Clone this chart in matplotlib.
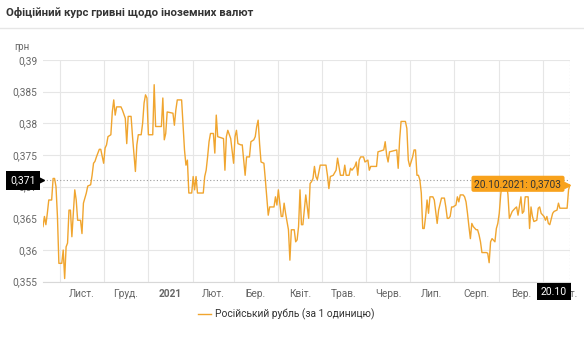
import datetime as dt

import matplotlib
matplotlib.use("Agg")
import matplotlib.pyplot as plt
from matplotlib.lines import Line2D
from matplotlib.transforms import blended_transform_factory, offset_copy

plt.rcParams["font.family"] = ["Roboto", "DejaVu Sans"]

START = dt.date(2020, 10, 20)

# days since 20.10.2020 and the official rate for each of them
DAYS = [
    0, 1, 2, 3, 4, 6, 7, 8, 9, 10, 11, 13, 14, 15, 16, 17, 18, 19, 20, 22,
    23, 24, 26, 27, 28, 30, 31, 33, 34, 35, 36, 37, 39, 40, 42, 43, 44, 45, 47, 48,
    49, 50, 51, 54, 55, 57, 58, 59, 61, 62, 64, 65, 66, 68, 69, 70, 71, 72, 73, 76,
    77, 78, 82, 83, 84, 85, 86, 90, 91, 92, 93, 96, 98, 99, 100, 101, 103, 104, 105, 106,
    107, 111, 112, 113, 114, 115, 116, 118, 119, 120, 121, 125, 126, 127, 128, 130, 132, 133, 134, 135,
    137, 138, 140, 141, 143, 144, 146, 147, 148, 149, 150, 151, 153, 154, 156, 157, 160, 161, 162, 163,
    165, 166, 167, 168, 170, 171, 172, 174, 175, 176, 177, 178, 179, 180, 182, 183, 184, 185, 186, 187,
    188, 189, 190, 192, 196, 197, 198, 199, 201, 203, 204, 205, 206, 208, 209, 210, 212, 213, 214, 216,
    217, 218, 219, 220, 222, 223, 225, 226, 227, 231, 232, 236, 237, 238, 239, 240, 245, 246, 247, 248,
    251, 252, 253, 254, 256, 257, 258, 259, 260, 261, 262, 263, 264, 265, 266, 267, 268, 269, 270, 271,
    272, 273, 274, 276, 278, 279, 280, 281, 282, 283, 284, 286, 287, 288, 289, 291, 292, 293, 294, 295,
    296, 297, 298, 300, 301, 302, 303, 304, 307, 308, 309, 310, 311, 313, 314, 315, 316, 317, 318, 320,
    321, 322, 323, 325, 327, 328, 329, 331, 332, 333, 334, 336, 337, 338, 339, 340, 342, 343, 344, 345,
    347, 348, 349, 350, 351, 353, 354, 356, 357, 358, 363, 364, 365,
]
RATES = [
    0.3637, 0.3653, 0.3640, 0.3658, 0.3679, 0.3679, 0.3713, 0.3713, 0.3700, 0.3653,
    0.3579, 0.3579, 0.3600, 0.3555, 0.3605, 0.3611, 0.3663, 0.3663, 0.3621, 0.3695,
    0.3679, 0.3647, 0.3647, 0.3626, 0.3674, 0.3690, 0.3701, 0.3703, 0.3718, 0.3737,
    0.3740, 0.3747, 0.3759, 0.3759, 0.3737, 0.3761, 0.3766, 0.3779, 0.3782, 0.3818,
    0.3837, 0.3813, 0.3826, 0.3826, 0.3821, 0.3808, 0.3768, 0.3811, 0.3811, 0.3779,
    0.3724, 0.3766, 0.3782, 0.3782, 0.3800, 0.3832, 0.3845, 0.3840, 0.3782, 0.3782,
    0.3861, 0.3795, 0.3795, 0.3840, 0.3774, 0.3784, 0.3818, 0.3816, 0.3797, 0.3821,
    0.3837, 0.3837, 0.3758, 0.3734, 0.3742, 0.3690, 0.3690, 0.3716, 0.3695, 0.3716,
    0.3690, 0.3690, 0.3716, 0.3726, 0.3747, 0.3771, 0.3784, 0.3784, 0.3753, 0.3813,
    0.3779, 0.3776, 0.3726, 0.3779, 0.3789, 0.3776, 0.3737, 0.3779, 0.3789, 0.3768,
    0.3766, 0.3766, 0.3718, 0.3747, 0.3747, 0.3771, 0.3774, 0.3779, 0.3795, 0.3805,
    0.3768, 0.3739, 0.3737, 0.3711, 0.3655, 0.3668, 0.3668, 0.3684, 0.3671, 0.3695,
    0.3653, 0.3653, 0.3674, 0.3658, 0.3632, 0.3584, 0.3632, 0.3632, 0.3613, 0.3616,
    0.3637, 0.3695, 0.3640, 0.3640, 0.3687, 0.3668, 0.3650, 0.3705, 0.3708, 0.3713,
    0.3732, 0.3716, 0.3711, 0.3734, 0.3734, 0.3718, 0.3697, 0.3716, 0.3718, 0.3726,
    0.3745, 0.3732, 0.3718, 0.3718, 0.3734, 0.3718, 0.3718, 0.3729, 0.3726, 0.3732,
    0.3739, 0.3718, 0.3742, 0.3747, 0.3747, 0.3739, 0.3742, 0.3726, 0.3732, 0.3732,
    0.3755, 0.3758, 0.3771, 0.3750, 0.3739, 0.3755, 0.3758, 0.3729, 0.3774, 0.3803,
    0.3803, 0.3792, 0.3742, 0.3732, 0.3747, 0.3758, 0.3758, 0.3718, 0.3718, 0.3711,
    0.3690, 0.3634, 0.3634, 0.3653, 0.3679, 0.3658, 0.3684, 0.3684, 0.3684, 0.3679,
    0.3661, 0.3642, 0.3663, 0.3682, 0.3682, 0.3668, 0.3650, 0.3650, 0.3653, 0.3668,
    0.3668, 0.3671, 0.3684, 0.3676, 0.3687, 0.3687, 0.3684, 0.3676, 0.3658, 0.3637,
    0.3618, 0.3642, 0.3637, 0.3632, 0.3632, 0.3624, 0.3613, 0.3596, 0.3596, 0.3595,
    0.3580, 0.3613, 0.3618, 0.3613, 0.3634, 0.3642, 0.3658, 0.3687, 0.3706, 0.3710,
    0.3704, 0.3688, 0.3650, 0.3661, 0.3666, 0.3668, 0.3655, 0.3684, 0.3658, 0.3661,
    0.3684, 0.3684, 0.3634, 0.3668, 0.3653, 0.3645, 0.3647, 0.3666, 0.3668, 0.3658,
    0.3653, 0.3647, 0.3653, 0.3642, 0.3640, 0.3658, 0.3661, 0.3663, 0.3674, 0.3666,
    0.3666, 0.3695, 0.3703,
]

MONTH_LABELS = ["Лист.", "Груд.", "2021", "Лют.", "Бер.", "Квіт.", "Трав.",
                "Черв.", "Лип.", "Серп.", "Вер.", "Жовт."]
Y_TICKS = [0.355, 0.36, 0.365, 0.37, 0.375, 0.38, 0.385, 0.39]

SERIES_NAME = "Російський рубль (за 1 одиницю)"
TITLE = "Офіційний курс гривні щодо іноземних валют"
CURSOR_RATE = 0.371

LINE_COLOR = "#f0a52f"
TIP_COLOR = "#f8a21c"
GRID_COLOR = "#e6e6e6"
TEXT_COLOR = "#666666"


def month_start(year, month):
    if month > 12:
        year, month = year + 1, month - 12
    return dt.date(year, month, 1)


def comma(v):
    return v.replace(".", ",")


dates = [START + dt.timedelta(days=d) for d in DAYS]
end = dates[-1]
last_rate = RATES[-1]

starts = [month_start(2020, 11 + i) for i in range(len(MONTH_LABELS) + 1)]
mids = [a + (b - a) / 2 for a, b in zip(starts[:-1], starts[1:])]

fig = plt.figure(figsize=(5.84, 3.5), dpi=100)
fig.text(6 / 584, 1 - 12 / 350, TITLE, fontsize=8.2, fontweight="bold",
         color="#333333", va="center")
fig.add_artist(Line2D([0, 1], [1 - 28 / 350] * 2, color=GRID_COLOR, lw=1))
fig.text(14 / 584, 1 - 47 / 350, "грн", fontsize=7, color=TEXT_COLOR, va="center")

ax = fig.add_axes([43 / 584, 1 - 281.7 / 350, 527 / 584, 221.7 / 350])
ax.plot(dates, RATES, color=LINE_COLOR, lw=1.0, zorder=3, label=SERIES_NAME)
ax.set_xlim(START, end)
ax.set_ylim(Y_TICKS[0], Y_TICKS[-1])

ax.set_yticks(Y_TICKS)
ax.set_yticklabels([comma(f"{v:g}") for v in Y_TICKS])
ax.set_xticks(mids)
ax.set_xticklabels(MONTH_LABELS)
ax.set_xticks(starts[:-1], minor=True)
for lab in ax.get_xticklabels():
    if lab.get_text() == "2021":
        lab.set_fontweight("bold")
        lab.set_color("#333333")

ax.tick_params(which="both", length=0, labelsize=7.3, colors=TEXT_COLOR)
ax.tick_params(axis="y", pad=4)
ax.tick_params(axis="x", pad=5)
ax.grid(axis="y", color=GRID_COLOR, lw=0.8)
ax.grid(axis="x", which="minor", color=GRID_COLOR, lw=0.8)
ax.grid(axis="x", which="major", visible=False)
for side in ("top", "left", "right"):
    ax.spines[side].set_visible(False)
ax.spines["bottom"].set_color("#d8d8d8")
ax.spines["bottom"].set_linewidth(0.8)

# crosshair with its axis labels
ax.axhline(CURSOR_RATE, color="#9a9a9a", lw=0.8, ls=(0, (1, 2)), zorder=2)
ax.axvline(end, color="#9a9a9a", lw=0.8, ls=(0, (1, 2)), zorder=2)

ax.annotate(comma(f"{CURSOR_RATE:g}"), xy=(0, CURSOR_RATE),
            xycoords=("axes fraction", "data"),
            xytext=(-20, 0), textcoords="offset pixels", ha="center", va="center",
            fontsize=7.5, color="white", zorder=6, annotation_clip=False,
            bbox=dict(boxstyle="square,pad=0.45", fc="black", ec="none"))
ax.plot([0], [CURSOR_RATE], marker=">", ms=4, color="black", clip_on=False,
        transform=blended_transform_factory(
            offset_copy(ax.transAxes, fig=fig, x=-2, y=0, units="dots"), ax.transData),
        zorder=6)

ax.annotate(end.strftime("%d.%m"), xy=(end, 0), xycoords=("data", "axes fraction"),
            xytext=(-16, -10), textcoords="offset pixels", ha="center", va="center",
            fontsize=7.5, color="white", zorder=6, annotation_clip=False,
            bbox=dict(boxstyle="square,pad=0.35", fc="black", ec="none"))

# tooltip for the last point
tip = f"{end.strftime('%d.%m.%Y')}: " + comma(f"{last_rate:.4f}")
ax.annotate(tip, xy=(end, last_rate), xytext=(-52, 1), textcoords="offset pixels",
            ha="center", va="center", fontsize=7.3, color="#333333", zorder=5,
            annotation_clip=False,
            bbox=dict(boxstyle="round,pad=0.3,rounding_size=0.2", fc=TIP_COLOR, ec="none"))
tr_tip = offset_copy(ax.transData, fig=fig, x=-3, y=0, units="dots")
ax.plot([end], [last_rate], marker=">", ms=4, color=TIP_COLOR, transform=tr_tip,
        clip_on=False, zorder=5)

fig.legend(loc="center", bbox_to_anchor=(0.49, 1 - 314 / 350), frameon=False,
           fontsize=7.4, labelcolor="#333333", handlelength=1.2, handletextpad=0.4)

fig.savefig("out.png", dpi=100, facecolor="white")
